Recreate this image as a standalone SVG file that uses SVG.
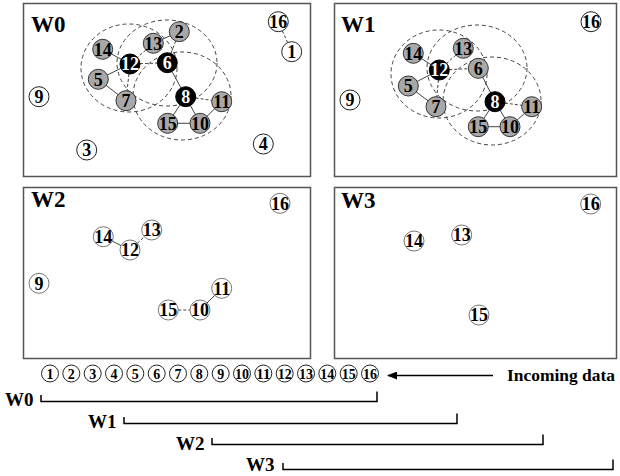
<svg xmlns="http://www.w3.org/2000/svg" width="620" height="476" viewBox="0 0 620 476" font-family="'Liberation Serif', 'DejaVu Serif', serif">
  <style>
    text { font-family: 'Liberation Serif', 'DejaVu Serif', serif; font-weight: bold; fill: #000; }
    .panel { fill: #fff; stroke: #555; stroke-width: 1.5; }
    .title { font-size: 23px; }
    .lbl { font-size: 18px; text-anchor: middle; }
    .gray circle { fill: #a8a8a8; stroke: #333; stroke-width: 1; }
    .black circle { fill: #000; stroke: #000; stroke-width: 1; }
    .black text { fill: #fff; }
    .white circle { fill: #fff; stroke: #222; stroke-width: 1; }
    .pale circle { fill: #fff; stroke: #777; stroke-width: 1; }
    .edge { stroke: #444; stroke-width: 1; fill: none; }
    .dedge { stroke: #444; stroke-width: 1; fill: none; stroke-dasharray: 3 2; }
    .range { stroke: #444; stroke-width: 1; fill: none; stroke-dasharray: 4 3; }
    .bracket { stroke: #000; stroke-width: 1.5; fill: none; }
    .seq circle { fill: #fff; stroke: #222; stroke-width: 1; }
    .seq text { font-size: 14px; text-anchor: middle; }
    .caption { font-size: 17px; }
    .span { font-size: 19px; }
  </style>
  <defs>
    <marker id="arrowhead" markerWidth="10" markerHeight="8" refX="9" refY="4" orient="auto" markerUnits="userSpaceOnUse">
      <path d="M0,0 L10,4 L0,8 Z" fill="#000"/>
    </marker>
  </defs>

  <!-- window panels -->
  <rect class="panel" x="23.5" y="3.5" width="287" height="173"/>
  <rect class="panel" x="334.5" y="3.5" width="282" height="173"/>
  <rect class="panel" x="23.5" y="187.5" width="287" height="171"/>
  <rect class="panel" x="334.5" y="187.5" width="282" height="171"/>
  <text class="title" x="31" y="32">W0</text>
  <text class="title" x="341" y="32">W1</text>
  <text class="title" x="31" y="207">W2</text>
  <text class="title" x="341" y="208">W3</text>

  <!-- connectors and cluster ranges -->
  <g id="connectors">
    <!-- W0 ranges -->
    <ellipse class="range" cx="129" cy="68" rx="48" ry="44"/>
    <ellipse class="range" cx="167" cy="63" rx="50" ry="43"/>
    <ellipse class="range" cx="182" cy="96" rx="49" ry="44"/>
    <!-- W0 links -->
    <line class="edge" x1="102.7" y1="49.3" x2="130" y2="64"/>
    <line class="dedge" x1="153.3" y1="43.3" x2="130" y2="64"/>
    <line class="edge" x1="179.3" y1="31.7" x2="153.3" y2="43.3"/>
    <line class="dedge" x1="179.3" y1="31.7" x2="167.3" y2="62.7"/>
    <line class="dedge" x1="130" y1="64" x2="167.3" y2="62.7"/>
    <line class="edge" x1="98.3" y1="79.3" x2="130" y2="64"/>
    <line class="edge" x1="98.3" y1="79.3" x2="126" y2="100.7"/>
    <line class="dedge" x1="130" y1="64" x2="126" y2="100.7"/>
    <line class="edge" x1="167.3" y1="62.7" x2="185.7" y2="96.7"/>
    <line class="dedge" x1="185.7" y1="96.7" x2="221.7" y2="101.7"/>
    <line class="edge" x1="185.7" y1="96.7" x2="167.7" y2="123.3"/>
    <line class="edge" x1="185.7" y1="96.7" x2="200" y2="123.3"/>
    <line class="edge" x1="167.7" y1="123.3" x2="200" y2="123.3"/>
    <line class="edge" x1="200" y1="123.3" x2="221.7" y2="101.7"/>
    <line class="dedge" x1="278.3" y1="21.7" x2="291.7" y2="51.7"/>

    <!-- W1 ranges -->
    <ellipse class="range" cx="439" cy="74" rx="48" ry="44"/>
    <ellipse class="range" cx="477" cy="68" rx="50" ry="43"/>
    <ellipse class="range" cx="492" cy="101" rx="49" ry="44"/>
    <!-- W1 links -->
    <line class="edge" x1="413.3" y1="53.3" x2="439.3" y2="70"/>
    <line class="dedge" x1="463.3" y1="48.3" x2="439.3" y2="70"/>
    <line class="dedge" x1="439.3" y1="70" x2="478.3" y2="68.3"/>
    <line class="edge" x1="408.3" y1="86" x2="439.3" y2="70"/>
    <line class="edge" x1="408.3" y1="86" x2="436" y2="106.7"/>
    <line class="dedge" x1="439.3" y1="70" x2="436" y2="106.7"/>
    <line class="edge" x1="478.3" y1="68.3" x2="495" y2="101.7"/>
    <line class="dedge" x1="495" y1="101.7" x2="531.7" y2="106.7"/>
    <line class="edge" x1="495" y1="101.7" x2="478.3" y2="126.7"/>
    <line class="edge" x1="495" y1="101.7" x2="510" y2="126.7"/>
    <line class="edge" x1="478.3" y1="126.7" x2="510" y2="126.7"/>
    <line class="edge" x1="510" y1="126.7" x2="531.7" y2="106.7"/>

    <!-- W2 links -->
    <line class="edge" x1="103.3" y1="236.7" x2="130" y2="250"/>
    <line class="dedge" x1="130" y1="250" x2="151.7" y2="230"/>
    <line class="dedge" x1="168.3" y1="310" x2="200" y2="310"/>
    <line class="edge" x1="200" y1="310" x2="221.7" y2="288.3"/>

    <!-- incoming data arrow -->
    <line x1="493" y1="375.5" x2="388" y2="375.5" stroke="#000" stroke-width="1.5" marker-end="url(#arrowhead)"/>

    <!-- window spans -->
    <path class="bracket" d="M41,395 V401.5 H377 V391.5"/>
    <path class="bracket" d="M124,417 V423.5 H457 V413.5"/>
    <path class="bracket" d="M212,438 V444.5 H543 V434.5"/>
    <path class="bracket" d="M283,463 V469.5 H613 V459.5"/>
  </g>

  <!-- W0 nodes -->
  <g id="w0-n16" class="white"><circle cx="278.3" cy="21.7" r="10"/><text class="lbl" x="278.3" y="28">16</text></g>
  <g id="w0-n1" class="white"><circle cx="291.7" cy="51.7" r="10"/><text class="lbl" x="291.7" y="58">1</text></g>
  <g id="w0-n2" class="gray"><circle cx="179.3" cy="31.7" r="10"/><text class="lbl" x="179.3" y="38">2</text></g>
  <g id="w0-n13" class="gray"><circle cx="153.3" cy="43.3" r="10"/><text class="lbl" x="153.3" y="49.6">13</text></g>
  <g id="w0-n14" class="gray"><circle cx="102.7" cy="49.3" r="10"/><text class="lbl" x="102.7" y="55.6">14</text></g>
  <g id="w0-n12" class="black"><circle cx="130" cy="64" r="10"/><text class="lbl" x="130" y="70.3">12</text></g>
  <g id="w0-n6" class="black"><circle cx="167.3" cy="62.7" r="10"/><text class="lbl" x="167.3" y="69">6</text></g>
  <g id="w0-n5" class="gray"><circle cx="98.3" cy="79.3" r="10"/><text class="lbl" x="98.3" y="85.6">5</text></g>
  <g id="w0-n7" class="gray"><circle cx="126" cy="100.7" r="10"/><text class="lbl" x="126" y="107">7</text></g>
  <g id="w0-n8" class="black"><circle cx="185.7" cy="96.7" r="10"/><text class="lbl" x="185.7" y="103">8</text></g>
  <g id="w0-n11" class="gray"><circle cx="221.7" cy="101.7" r="10"/><text class="lbl" x="221.7" y="108">11</text></g>
  <g id="w0-n15" class="gray"><circle cx="167.7" cy="123.3" r="10"/><text class="lbl" x="167.7" y="129.6">15</text></g>
  <g id="w0-n10" class="gray"><circle cx="200" cy="123.3" r="10"/><text class="lbl" x="200" y="129.6">10</text></g>
  <g id="w0-n9" class="white"><circle cx="39" cy="96.7" r="10"/><text class="lbl" x="39" y="103">9</text></g>
  <g id="w0-n3" class="white"><circle cx="86.7" cy="150" r="10"/><text class="lbl" x="86.7" y="156.3">3</text></g>
  <g id="w0-n4" class="white"><circle cx="263.3" cy="144" r="10"/><text class="lbl" x="263.3" y="150.3">4</text></g>

  <!-- W1 nodes -->
  <g id="w1-n16" class="white"><circle cx="591" cy="21.7" r="10"/><text class="lbl" x="591" y="28">16</text></g>
  <g id="w1-n9" class="white"><circle cx="350" cy="100" r="10"/><text class="lbl" x="350" y="106.3">9</text></g>
  <g id="w1-n14" class="gray"><circle cx="413.3" cy="53.3" r="10"/><text class="lbl" x="413.3" y="59.6">14</text></g>
  <g id="w1-n13" class="gray"><circle cx="463.3" cy="48.3" r="10"/><text class="lbl" x="463.3" y="54.6">13</text></g>
  <g id="w1-n12" class="black"><circle cx="439.3" cy="70" r="10"/><text class="lbl" x="439.3" y="76.3">12</text></g>
  <g id="w1-n6" class="gray"><circle cx="478.3" cy="68.3" r="10"/><text class="lbl" x="478.3" y="74.6">6</text></g>
  <g id="w1-n5" class="gray"><circle cx="408.3" cy="86" r="10"/><text class="lbl" x="408.3" y="92.3">5</text></g>
  <g id="w1-n7" class="gray"><circle cx="436" cy="106.7" r="10"/><text class="lbl" x="436" y="113">7</text></g>
  <g id="w1-n8" class="black"><circle cx="495" cy="101.7" r="10"/><text class="lbl" x="495" y="108">8</text></g>
  <g id="w1-n11" class="gray"><circle cx="531.7" cy="106.7" r="10"/><text class="lbl" x="531.7" y="113">11</text></g>
  <g id="w1-n15" class="gray"><circle cx="478.3" cy="126.7" r="10"/><text class="lbl" x="478.3" y="133">15</text></g>
  <g id="w1-n10" class="gray"><circle cx="510" cy="126.7" r="10"/><text class="lbl" x="510" y="133">10</text></g>

  <!-- W2 nodes -->
  <g id="w2-n16" class="pale"><circle cx="280" cy="203.3" r="10"/><text class="lbl" x="280" y="209.6">16</text></g>
  <g id="w2-n14" class="pale"><circle cx="103.3" cy="236.7" r="10"/><text class="lbl" x="103.3" y="243">14</text></g>
  <g id="w2-n13" class="pale"><circle cx="151.7" cy="230" r="10"/><text class="lbl" x="151.7" y="236.3">13</text></g>
  <g id="w2-n12" class="pale"><circle cx="130" cy="250" r="10"/><text class="lbl" x="130" y="256.3">12</text></g>
  <g id="w2-n9" class="pale"><circle cx="39" cy="283.3" r="10"/><text class="lbl" x="39" y="289.6">9</text></g>
  <g id="w2-n11" class="pale"><circle cx="221.7" cy="288.3" r="10"/><text class="lbl" x="221.7" y="294.6">11</text></g>
  <g id="w2-n15" class="pale"><circle cx="168.3" cy="310" r="10"/><text class="lbl" x="168.3" y="316.3">15</text></g>
  <g id="w2-n10" class="pale"><circle cx="200" cy="310" r="10"/><text class="lbl" x="200" y="316.3">10</text></g>

  <!-- W3 nodes -->
  <g id="w3-n16" class="pale"><circle cx="590.7" cy="204" r="10"/><text class="lbl" x="590.7" y="210.3">16</text></g>
  <g id="w3-n14" class="pale"><circle cx="414" cy="241" r="10"/><text class="lbl" x="414" y="247.3">14</text></g>
  <g id="w3-n13" class="pale"><circle cx="461.7" cy="235" r="10"/><text class="lbl" x="461.7" y="241.3">13</text></g>
  <g id="w3-n15" class="pale"><circle cx="479" cy="315" r="10"/><text class="lbl" x="479" y="321.3">15</text></g>

  <!-- incoming data sequence -->
  <g id="sequence" class="seq">
    <g id="s1"><circle cx="50" cy="373.5" r="8.5"/><text x="50" y="378.5">1</text></g>
    <g id="s2"><circle cx="71.3" cy="373.5" r="8.5"/><text x="71.3" y="378.5">2</text></g>
    <g id="s3"><circle cx="92.7" cy="373.5" r="8.5"/><text x="92.7" y="378.5">3</text></g>
    <g id="s4"><circle cx="114" cy="373.5" r="8.5"/><text x="114" y="378.5">4</text></g>
    <g id="s5"><circle cx="135.3" cy="373.5" r="8.5"/><text x="135.3" y="378.5">5</text></g>
    <g id="s6"><circle cx="156.7" cy="373.5" r="8.5"/><text x="156.7" y="378.5">6</text></g>
    <g id="s7"><circle cx="178" cy="373.5" r="8.5"/><text x="178" y="378.5">7</text></g>
    <g id="s8"><circle cx="199.3" cy="373.5" r="8.5"/><text x="199.3" y="378.5">8</text></g>
    <g id="s9"><circle cx="220.7" cy="373.5" r="8.5"/><text x="220.7" y="378.5">9</text></g>
    <g id="s10"><circle cx="242" cy="373.5" r="8.5"/><text x="242" y="378.5" textLength="14" lengthAdjust="spacingAndGlyphs">10</text></g>
    <g id="s11"><circle cx="263.3" cy="373.5" r="8.5"/><text x="263.3" y="378.5" textLength="14" lengthAdjust="spacingAndGlyphs">11</text></g>
    <g id="s12"><circle cx="284.7" cy="373.5" r="8.5"/><text x="284.7" y="378.5" textLength="14" lengthAdjust="spacingAndGlyphs">12</text></g>
    <g id="s13"><circle cx="306" cy="373.5" r="8.5"/><text x="306" y="378.5" textLength="14" lengthAdjust="spacingAndGlyphs">13</text></g>
    <g id="s14"><circle cx="327.3" cy="373.5" r="8.5"/><text x="327.3" y="378.5" textLength="14" lengthAdjust="spacingAndGlyphs">14</text></g>
    <g id="s15"><circle cx="348.7" cy="373.5" r="8.5"/><text x="348.7" y="378.5" textLength="14" lengthAdjust="spacingAndGlyphs">15</text></g>
    <g id="s16"><circle cx="370" cy="373.5" r="8.5"/><text x="370" y="378.5" textLength="14" lengthAdjust="spacingAndGlyphs">16</text></g>
  </g>
  <text class="caption" x="507" y="380.5" textLength="108" lengthAdjust="spacingAndGlyphs">Incoming data</text>

  <!-- window span labels -->
  <text class="span" x="5" y="406">W0</text>
  <text class="span" x="88" y="428">W1</text>
  <text class="span" x="176" y="450">W2</text>
  <text class="span" x="246" y="471">W3</text>
</svg>
